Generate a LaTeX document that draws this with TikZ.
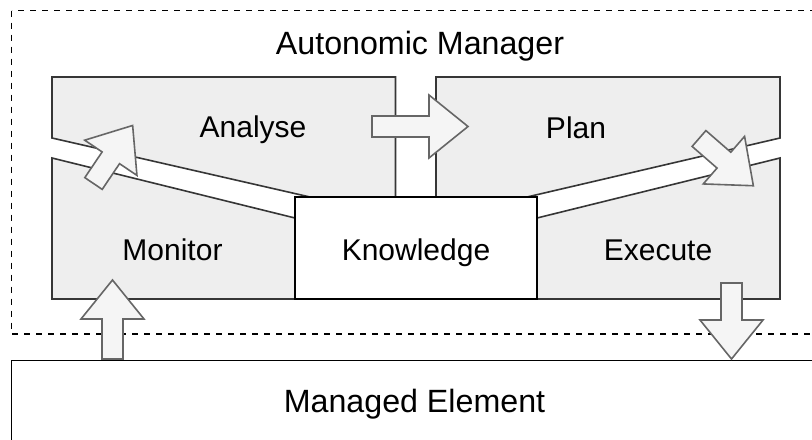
\documentclass[tikz,border=0pt]{standalone}
\usepackage{fontspec}
\setmainfont{Liberation Sans}
\usepackage{tikz}
\usepackage{xcolor}

\definecolor{phasefill}{HTML}{EEEEEE}
\definecolor{phaseline}{HTML}{363636}
\definecolor{flowfill}{HTML}{F5F5F5}
\definecolor{flowline}{HTML}{666666}

% block arrow: tail coordinate, angle, length
\newcommand{\blockarrow}[3]{%
  \begin{scope}[shift={(#1)},rotate=#2]
    \draw[flow] (0,-10.5) -- ({#3-39},-10.5) -- ({#3-39},-31.5) -- (#3,0)
      -- ({#3-39},31.5) -- ({#3-39},10.5) -- (0,10.5) -- cycle;
  \end{scope}}

\begin{document}
\begin{tikzpicture}[x=0.5pt,y=-0.5pt,line join=miter,
  phase/.style={fill=phasefill,draw=phaseline,line width=0.8pt},
  flow/.style={fill=flowfill,draw=flowline,line width=0.8pt},
  lbl/.style={font=\fontsize{15}{18}\selectfont,inner sep=0pt,anchor=base},
  biglbl/.style={font=\fontsize{16.1}{19}\selectfont,inner sep=0pt,anchor=base}]
\useasboundingbox (0,0) rectangle (812,439);
\clip (0,0) rectangle (812,439);

\draw[dashed,dash pattern=on 3pt off 3pt,line width=0.75pt] (11.5,10.5) rectangle (840,334);
\draw[line width=0.9pt,fill=white] (11.5,360.5) rectangle (840,460);

% the four phases
\draw[phase] (52,77) -- (395.5,77) -- (395.5,197) -- (310,197) -- (52,138) -- cycle;
\draw[phase] (436,77) -- (780,77) -- (780,138) -- (527,197) -- (436,197) -- cycle;
\draw[phase] (52,158) -- (295,218) -- (295,299) -- (52,299) -- cycle;
\draw[phase] (537,218) -- (780,158) -- (780,299) -- (537,299) -- cycle;
\draw[fill=white,line width=0.9pt] (295,197) rectangle (537,299);

\node[biglbl] (manager) at (420,54) {Autonomic Manager};
\node[lbl] (analyse) at (253,137) {Analyse};
\node[lbl] (plan) at (576,138) {Plan};
\node[lbl] (monitor) at (172.5,260) {Monitor};
\node[lbl] (knowledge) at (416,260) {Knowledge};
\node[lbl] (execute) at (658,260) {Execute};
\node[biglbl] (element) at (414.5,412) {Managed Element};

\coordinate (sense) at (112.5,359);
\coordinate (effect) at (731.5,283);
\coordinate (monOut) at (93.5,183.5);
\coordinate (anaOut) at (372,126.5);
\coordinate (planOut) at (699,138.5);

\blockarrow{sense}{90}{79}
\blockarrow{effect}{-90}{76}
\blockarrow{monOut}{56}{70}
\blockarrow{anaOut}{0}{96}
\blockarrow{planOut}{-41}{72}
\end{tikzpicture}
\end{document}
